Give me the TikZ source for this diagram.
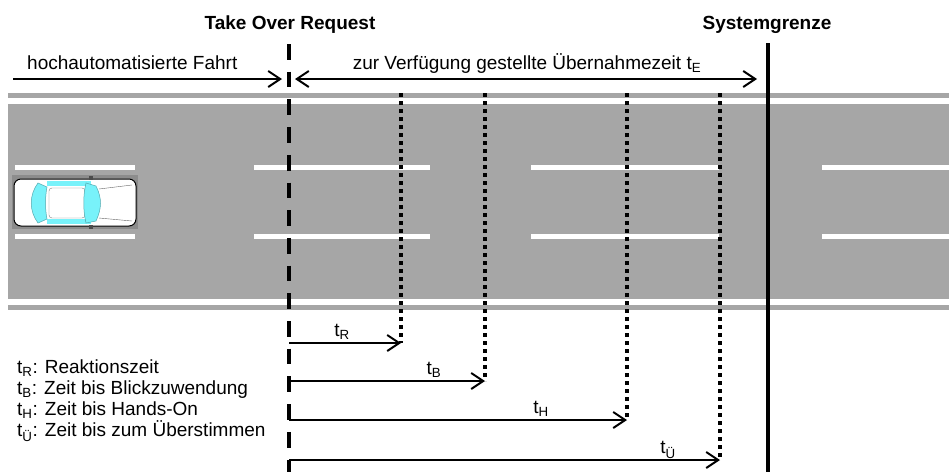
\documentclass[tikz,border=0pt]{standalone}
\usepackage{fontspec}
\setmainfont{Liberation Sans}
\usetikzlibrary{arrows.meta}
\definecolor{road}{RGB}{166,166,166}
\definecolor{carbg}{RGB}{140,140,140}
\definecolor{glass}{RGB}{120,242,250}
\tikzset{
	lbl/.style={font=\fontsize{19}{22}\selectfont, inner sep=0pt},
	lblb/.style={lbl, font=\fontsize{19}{22}\selectfont\bfseries},
	torline/.style={line width=3.8pt, dash pattern=on 15.7pt off 12pt},
	dotline/.style={line width=3.6pt, dash pattern=on 3.6pt off 4.4pt},
	timearrow/.style={line width=1.5pt, >={Straight Barb[length=12pt,width=16pt,line width=2pt]}, ->},
}

\begin{document}
\begin{tikzpicture}[x=1pt, y=-1pt]
			%%%%% START %%%%%
			\useasboundingbox (0,0) rectangle (949,472);
			
			% road with edge strips
			\fill[road] (8,93) rectangle (949,98);
			\fill[road] (8,104) rectangle (949,299);
			\fill[road] (8,305) rectangle (949,310);
			\foreach \a/\b in {15/135, 254/430, 531/719, 822/949} {
				\fill[white] (\a,165) rectangle (\b,170);
				\fill[white] (\a,234) rectangle (\b,239);
			}
			
			% car, seen from above
			\fill[carbg] (12,175) rectangle (138,229);
			\draw[fill=white, rounded corners=7pt, line width=1pt] (14,179) rectangle (136,226);
			\fill[glass] (47,181) rectangle (91,186);
			\fill[glass] (47,219) rectangle (91,224);
			\fill[black!70] (89,176) rectangle (93,180);
			\fill[black!70] (89,225) rectangle (93,229);
			\draw[black!50, rounded corners=3pt, fill=white] (49,188) rectangle (85,218);
			\draw[glass!70!black, fill=glass, line width=0.5pt] (47,187) -- (38,183) .. controls (29,195) and (29,211) .. (38,223) -- (47,219) .. controls (45,209) and (45,197) .. cycle;
			\draw[glass!70!black, fill=glass, line width=0.5pt] (86,183) -- (96,186) .. controls (102,198) and (102,208) .. (96,221) -- (86,223) .. controls (83,210) and (83,196) .. cycle;
			\draw[black!60] (99,189) -- (132,185);
			\draw[black!60] (99,218) -- (132,221);
			
			% take over request and system limit
			\coordinate (tor top) at (289,44);
			\coordinate (tor bot) at (289,472);
			\coordinate (sg top) at (768,43);
			\coordinate (sg bot) at (768,472);
			\draw[torline] (tor top) -- (tor bot);
			\draw[line width=3.5pt] (sg top) -- (sg bot);
			\node[lblb, anchor=base] (tor) at (290,29) {Take Over Request};
			\node[lblb, anchor=base] (sg) at (767,29) {Systemgrenze};
			
			% upper arrows
			\coordinate (hf start) at (13,79);
			\coordinate (hf end) at (282,79);
			\coordinate (te start) at (295,79);
			\coordinate (te end) at (757,79);
			\draw[timearrow] (hf start) -- (hf end);
			\draw[timearrow, <->] (te start) -- (te end);
			\node[lbl, anchor=base west] (hf) at (27,69) {hochautomatisierte Fahrt};
			\node[lbl, anchor=base] (te) at (527,69) {zur Verfügung gestellte Übernahmezeit t\textsubscript{E}};
			
			% time spans after the request
			\foreach \x/\y/\lx/\lab/\nm in {401/343/342/R/r, 485/381/434/B/b, 627/420/541/H/h, 720/460/668/Ü/u} {
				\coordinate (\nm top) at (\x,93);
				\coordinate (\nm end) at (\x,\y);
				\coordinate (\nm start) at (289,\y);
				\draw[dotline] (\nm top) -- (\nm end);
				\draw[timearrow] (\nm start) -- (\nm end);
				\node[lbl, anchor=base] (t\nm) at (\lx,\y-7) {t\textsubscript{\lab}};
			}
			
			% legend
			\node[lbl, anchor=base west] (leg r) at (17,373) {t\textsubscript{R}: Reaktionszeit};
			\node[lbl, anchor=base west] (leg b) at (17,394) {t\textsubscript{B}: Zeit bis Blickzuwendung};
			\node[lbl, anchor=base west] (leg h) at (17,415) {t\textsubscript{H}: Zeit bis Hands-On};
			\node[lbl, anchor=base west] (leg u) at (17,436) {t\textsubscript{Ü}: Zeit bis zum Überstimmen};
			%%%%% END %%%%%
\end{tikzpicture}
\end{document}
